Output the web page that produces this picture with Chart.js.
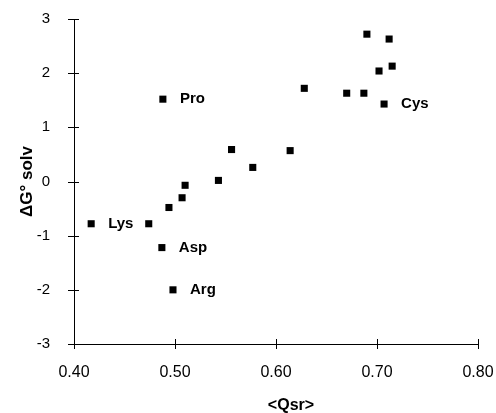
<!DOCTYPE html>
<html>
<head>
<meta charset="utf-8">
<script src="https://cdn.jsdelivr.net/npm/chart.js@4/dist/chart.umd.min.js"></script>
<style>
  html,body{margin:0;padding:0;background:#fff;}
  #wrap{width:496px;height:413px;position:relative;}
</style>
</head>
<body>
<div id="wrap"><canvas id="scatterChart"></canvas></div>
<script>
// values
var qsr   = [0.417,0.474,0.487,0.498,0.494,0.507,0.510,0.543,0.556,0.577,0.614,0.488,0.628,0.670,0.687,0.707,0.702,0.715,0.690,0.712];
var dgSolv= [-0.78,-0.78,-1.22,-2.00,-0.48,-0.30,-0.07,0.02,0.59,0.26,0.57,1.52,1.72,1.63,1.63,1.43,2.04,2.13,2.72,2.63];
var names = ['Lys','','Asp','Arg','','','','','','','','Pro','','','','Cys','','','',''];
var xTicks = [0.40,0.50,0.60,0.70,0.80];
var yTicks = [-3,-2,-1,0,1,2,3];

var points=[];
for(var i=0;i<qsr.length;i++){ points.push({x:qsr[i],y:dgSolv[i]}); }

// ticks that cross the axis line, point names, axis titles
var decor={
  id:'decor',
  afterDraw:function(chart){
    var ctx=chart.ctx, xs=chart.scales.x, ys=chart.scales.y, a=chart.chartArea;
    ctx.save();
    ctx.strokeStyle='#000';
    ctx.lineWidth=1;
    ctx.beginPath();
    xTicks.forEach(function(v){
      var px=Math.round(xs.getPixelForValue(v))+0.5;
      ctx.moveTo(px,a.bottom-5); ctx.lineTo(px,a.bottom+5);
    });
    yTicks.forEach(function(v){
      var py=Math.round(ys.getPixelForValue(v))+0.5;
      ctx.moveTo(a.left-6,py); ctx.lineTo(a.left+5,py);
    });
    ctx.stroke();

    var meta=chart.getDatasetMeta(0);
    ctx.fillStyle='#000';
    ctx.font='bold 15px Arial, "Liberation Sans", sans-serif';
    ctx.textAlign='left';
    ctx.textBaseline='middle';
    meta.data.forEach(function(el,i){
      if(names[i]) ctx.fillText(names[i],el.x+17,el.y);
    });

    // axis titles
    ctx.font='bold 16px Arial, "Liberation Sans", sans-serif';
    ctx.textAlign='center';
    ctx.fillText('<Qsr>',291,406);
    ctx.translate(27,(a.top+a.bottom)/2);
    ctx.rotate(-Math.PI/2);
    ctx.font='bold 17px Arial, "Liberation Sans", sans-serif';
    ctx.fillText('\u0394G\u00b0 solv',0,0);
    ctx.restore();
  }
};

new Chart('scatterChart',{
  type:'scatter',
  data:{
    datasets:[{
      data:points,
      pointStyle:'rect',
      pointRadius:5,
      pointHoverRadius:5,
      backgroundColor:'#000',
      borderColor:'#000',
      borderWidth:0
    }]
  },
  options:{
    responsive:true,
    maintainAspectRatio:false,
    animation:false,
    layout:{padding:{left:0,right:18,top:19,bottom:0}},
    plugins:{legend:{display:false},tooltip:{enabled:false}},
    scales:{
      x:{
        type:'linear',
        min:0.4,max:0.8,
        afterBuildTicks:function(s){ s.ticks=xTicks.map(function(v){return {value:v};}); },
        afterFit:function(s){ s.height=69; s.paddingLeft=0; s.paddingRight=0; },
        grid:{display:false},
        border:{display:true,color:'#000',width:1},
        ticks:{
          padding:11,
          color:'#000',
          font:{family:'Arial, "Liberation Sans", sans-serif',size:16},
          callback:function(v){ return v.toFixed(2); }
        }
      },
      y:{
        type:'linear',
        min:-3,max:3,
        afterBuildTicks:function(s){ s.ticks=yTicks.map(function(v){return {value:v};}); },
        afterFit:function(s){ s.width=74; s.paddingTop=0; s.paddingBottom=0; },
        grid:{display:false},
        border:{display:true,color:'#000',width:1},
        ticks:{
          padding:16,
          color:'#000',
          font:{family:'Arial, "Liberation Sans", sans-serif',size:15}
        }
      }
    }
  },
  plugins:[decor]
});
</script>
</body>
</html>
